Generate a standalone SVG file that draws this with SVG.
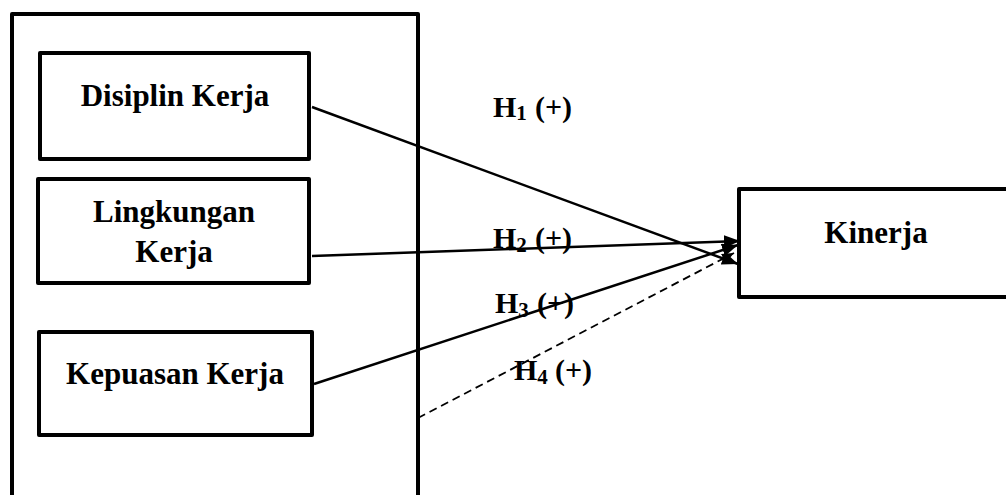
<svg xmlns="http://www.w3.org/2000/svg" width="1006" height="495" viewBox="0 0 1006 495">
<style>
.box{fill:#fff;stroke:#000;stroke-width:4;stroke-linejoin:round}
.lbl{font-family:"Liberation Serif","Times New Roman",serif;font-weight:bold;font-size:31px;fill:#000}
.hl{font-family:"Liberation Serif","Times New Roman",serif;font-weight:bold;font-size:30px;fill:#000}
.sub{font-size:21px}
.ln{stroke:#000;stroke-width:2.5;fill:none}
.dash{stroke-dasharray:8 5;stroke-width:1.8}
</style>
<defs>
<marker id="ah" markerUnits="userSpaceOnUse" markerWidth="18" markerHeight="14" refX="16" refY="6.5" orient="auto">
<path d="M0,0 L16,6.5 L0,13 z" fill="#000"/>
</marker>
<marker id="ahs" markerUnits="userSpaceOnUse" markerWidth="14" markerHeight="12" refX="12" refY="5" orient="auto">
<path d="M0,0 L12,5 L0,10 z" fill="#000"/>
</marker>
</defs>
<rect width="1006" height="495" fill="#fff"/>
<g id="group-left">
<rect class="box" x="12" y="14" width="406" height="500"/>
</g>
<g id="node-disiplin">
<rect class="box" x="40" y="53" width="269" height="106"/>
<text class="lbl" x="175" y="106" text-anchor="middle">Disiplin Kerja</text>
</g>
<g id="node-lingkungan">
<rect class="box" x="38" y="179" width="271" height="104"/>
<text class="lbl" x="174" y="222" text-anchor="middle">Lingkungan</text>
<text class="lbl" x="174" y="262" text-anchor="middle">Kerja</text>
</g>
<g id="node-kepuasan">
<rect class="box" x="39" y="332" width="273" height="103"/>
<text class="lbl" x="175" y="384" text-anchor="middle">Kepuasan Kerja</text>
</g>
<g id="node-kinerja">
<rect class="box" x="739" y="189" width="280" height="108"/>
<text class="lbl" x="876" y="243" text-anchor="middle">Kinerja</text>
</g>
<g id="connectors">
<line class="ln" x1="312" y1="107" x2="738" y2="264" marker-end="url(#ah)"/>
<line class="ln" x1="312" y1="256" x2="740" y2="241" marker-end="url(#ah)"/>
<line class="ln" x1="314" y1="384" x2="738" y2="245" marker-end="url(#ah)"/>
<line class="ln dash" x1="418" y1="418" x2="734" y2="253" marker-end="url(#ahs)"/>
</g>
<g id="labels">
<text class="hl" x="493" y="117">H<tspan class="sub" dy="3">1</tspan><tspan dy="-3" x="535">(+)</tspan></text>
<text class="hl" x="493" y="248">H<tspan class="sub" dy="4">2</tspan><tspan dy="-4" x="535">(+)</tspan></text>
<text class="hl" x="495" y="313">H<tspan class="sub" dy="4">3</tspan><tspan dy="-4" x="537">(+)</tspan></text>
<text class="hl" x="514" y="380">H<tspan class="sub" dy="4">4</tspan><tspan dy="-4" x="555">(+)</tspan></text>
</g>
</svg>
